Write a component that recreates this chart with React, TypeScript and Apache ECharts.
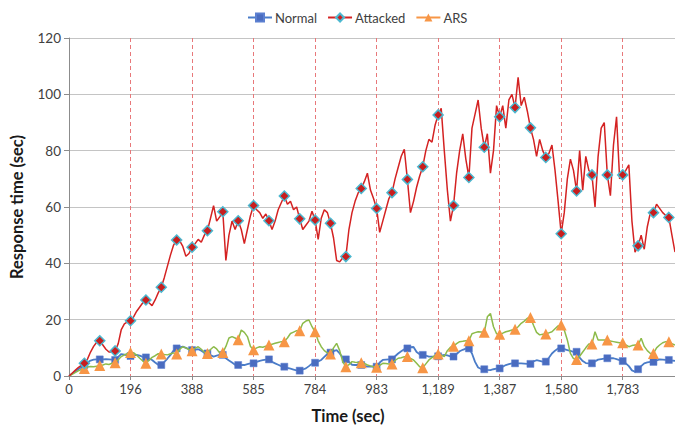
import React, { useEffect, useRef } from "react";
import * as echarts from "echarts";

// x tick labels (seconds), one every 20 samples
const tickLabels = ["0", "196", "388", "585", "784", "983", "1,189", "1,387", "1,580", "1,783"];
const samplesPerTick = 20;
const markerEvery = 5;

const seriesNames = ["Normal", "Attacked", "ARS"];

const normalValues = [
  0, 0.8, 1.6, 2.4, 3.2, 3.9, 4.8, 5.5, 5.8, 5.9,
  5.9, 5.9, 6.0, 5.9, 5.8, 5.7, 6.8, 7.8, 7.6, 7.3,
  7.1, 7.3, 7.5, 7.2, 6.8, 6.6, 6.2, 5.7, 4.8, 4.0,
  3.9, 5.0, 6.2, 7.5, 9.0, 9.8, 10.2, 10.4, 10.0, 9.5,
  9.2, 9.4, 9.5, 9.0, 8.3, 8.0, 7.4, 6.9, 7.2, 7.5,
  7.5, 6.3, 5.5, 4.8, 4.0, 3.9, 3.9, 3.9, 4.2, 4.5,
  4.5, 5.0, 5.4, 5.6, 5.8, 5.9, 5.0, 4.5, 4.0, 3.5,
  3.3, 2.9, 2.6, 2.3, 2.0, 1.9, 2.3, 2.7, 3.5, 4.4,
  4.7, 5.2, 5.7, 6.8, 7.8, 8.3, 8.8, 9.2, 8.0, 6.5,
  5.9, 5.0, 4.0, 3.9, 3.9, 3.9, 3.6, 3.3, 3.3, 3.4,
  3.3, 4.8, 5.7, 5.8, 5.9, 5.9, 7.0, 8.0, 8.8, 9.5,
  9.8, 10.2, 10.3, 8.5, 7.7, 7.5, 7.2, 6.9, 6.9, 6.9,
  7.0, 7.2, 7.5, 7.3, 7.0, 6.9, 7.8, 8.8, 9.3, 9.7,
  9.8, 8.0, 5.0, 3.0, 2.5, 2.4, 2.2, 2.1, 2.4, 2.6,
  2.7, 3.3, 3.9, 4.2, 4.5, 4.5, 4.5, 4.5, 4.4, 4.3,
  4.3, 5.2, 5.6, 5.4, 5.1, 5.1, 6.5, 8.0, 9.0, 9.8,
  9.8, 9.5, 9.2, 8.9, 8.6, 8.6, 6.5, 5.3, 4.6, 4.5,
  4.5, 5.2, 5.8, 6.0, 6.2, 6.3, 6.3, 6.3, 6.0, 5.6,
  5.3, 4.5, 3.5, 2.0, 1.5, 2.4, 3.5, 4.5, 4.8, 5.0,
  5.0, 5.5, 5.9, 5.8, 5.7, 5.7, 5.5, 5.4,
];

const attackedValues = [
  0, 1, 2, 3, 3.8, 4.5, 6, 8.5, 10.5, 12,
  12.5, 11, 9.5, 8.5, 8.5, 8.9, 11.5, 16.5, 18.5, 19.2,
  19.6, 21, 23, 24.5, 26, 27, 26, 25, 27, 29.5,
  31.5, 35, 39, 43, 46.5, 48.3, 48, 46, 42.5, 43.5,
  45.7, 47, 48.5, 47.5, 50, 51.6, 56, 60.5, 55, 56.5,
  58.3, 41, 50, 55, 52, 55.1, 52, 47, 52, 57,
  60.5, 59, 58, 56, 57.5, 55.1, 52, 55, 59, 61.5,
  63.9, 61, 62, 59, 60, 55.8, 52, 53.5, 55, 58.5,
  55.4, 48.5, 56, 59, 58, 54.2, 49, 41, 40.5, 42,
  42.4, 52, 58, 62, 65, 66.6, 69, 72, 66, 63,
  59.5, 51, 55, 59, 63, 65.1, 70, 74, 78, 80.5,
  69.8, 58, 62, 67, 71, 74.3, 80, 84, 83, 89,
  92.7, 95, 80, 66, 55, 60.5, 72, 80, 86, 77,
  70.5, 88, 93, 98, 88, 81.2, 86, 72, 80, 96,
  92, 96, 88, 98, 100, 95.3, 106, 96, 99, 94,
  88.1, 84, 78, 84, 80, 77.6, 79, 82, 73, 62,
  50.5, 58, 70, 77, 73, 65.7, 80, 66, 78, 73,
  71.4, 60, 78, 88, 90, 71.4, 64, 82, 92, 70,
  71.4, 73, 75, 55, 44, 46.2, 50, 45, 53, 58,
  58, 61, 59.5, 58, 57, 56.3, 50, 44,
];

const arsValues = [
  0, 0.6, 1.2, 1.8, 2.3, 2.7, 3.2, 3.4, 3.3, 3.5,
  3.7, 3.9, 4.3, 4.1, 4.5, 4.7, 5.8, 6.9, 7.5, 8.0,
  8.3, 8.2, 7.4, 6.3, 5.3, 4.5, 5.6, 6.6, 7.2, 7.9,
  7.8, 7.6, 7.5, 7.9, 8.2, 7.8, 9.5, 10.4, 10.0, 9.4,
  9.0, 9.8, 10.4, 9.5, 8.4, 8.0, 9.4, 10.4, 9.6, 8.2,
  8.3, 10.5, 13.5, 14.0, 13.5, 12.9, 16.3, 15.5, 14.0, 10.5,
  9.3, 10.0, 10.4, 10.2, 10.6, 11.0, 11.3, 11.6, 11.9, 12.2,
  12.2, 13.5, 15.1, 15.6, 16.1, 16.1, 18.7, 19.5, 19.9, 17.5,
  15.7, 12.5, 10.4, 9.0, 8.2, 7.8, 10.0, 11.6, 9.0, 5.0,
  3.3, 4.0, 5.1, 4.9, 4.8, 4.7, 4.5, 3.9, 3.6, 3.3,
  3.1, 3.8, 4.5, 4.4, 4.3, 4.3, 5.5, 6.3, 6.5, 6.8,
  6.9, 6.2, 5.7, 4.5, 3.3, 2.9, 4.3, 5.7, 6.5, 7.3,
  7.8, 7.4, 6.9, 9.0, 10.2, 10.6, 11.5, 12.2, 12.3, 12.5,
  12.5, 15.0, 15.4, 15.7, 15.6, 15.5, 21.0, 22.2, 17.5, 15.0,
  14.8, 15.2, 15.7, 16.0, 16.3, 16.6, 17.5, 18.7, 19.5, 20.5,
  20.8, 18.0, 15.5, 14.6, 14.8, 14.9, 15.3, 15.7, 16.8, 17.8,
  18.1, 16.3, 12.8, 8.0, 6.2, 5.9, 7.0, 8.5, 10.0, 11.4,
  11.4, 15.7, 12.8, 12.8, 12.8, 12.8, 12.4, 12.2, 12.0, 11.8,
  11.8, 11.0, 10.4, 10.8, 11.0, 11.0, 13.4, 10.5, 9.0, 8.0,
  8.0, 10.0, 11.0, 11.8, 12.2, 12.2, 11.5, 11.0,
];

const FONT = "Lato, 'Open Sans', sans-serif";

function toData(values: number[]) {
  return values.map((v, i) =>
    i > 0 && i % markerEvery === 0 ? [i, v] : { value: [i, v], symbol: "none" }
  );
}

export default function App() {
  const ref = useRef<HTMLDivElement>(null);
  useEffect(() => {
    if (!ref.current) return;
    const chart = echarts.init(ref.current, undefined, { renderer: "svg" });
    const lastIndex = attackedValues.length - 1;
    chart.setOption({
      animation: false,
      backgroundColor: "#ffffff",
      textStyle: { fontFamily: FONT },
      legend: {
        top: 6,
        left: 242,
        itemWidth: 24,
        itemHeight: 10,
        itemGap: 10,
        textStyle: { fontFamily: FONT, fontSize: 13, color: "#404040", padding: [0, 0, 0, -2] },
        data: [
          { name: "Normal" },
          { name: "Attacked" },
          { name: "ARS", lineStyle: { color: "#F79646" } },
        ],
      },
      grid: { left: 67, top: 38, right: 0, bottom: 53, containLabel: false },
      xAxis: {
        type: "value",
        min: 0,
        max: lastIndex,
        interval: samplesPerTick,
        name: "Time (sec)",
        nameLocation: "middle",
        nameGap: 31,
        nameTextStyle: {
          fontFamily: FONT,
          fontSize: 16.5,
          fontWeight: "bold",
          color: "#1a1a1a",
          padding: [0, 48, 0, 0],
        },
        axisLine: { show: true, lineStyle: { color: "#8c8c8c", width: 1 } },
        axisTick: { show: true, length: 4, lineStyle: { color: "#8c8c8c" } },
        axisLabel: {
          fontFamily: FONT,
          fontSize: 13,
          color: "#404040",
          margin: 6,
          showMaxLabel: false,
          formatter: (v: number) => {
            const k = v / samplesPerTick;
            return Number.isInteger(k) && tickLabels[k] !== undefined ? tickLabels[k] : "";
          },
        },
        splitLine: {
          show: true,
          lineStyle: { color: "#E8787A", type: [4, 3], width: 1 },
        },
      },
      yAxis: {
        type: "value",
        min: 0,
        max: 120,
        interval: 20,
        name: "Response time (sec)",
        nameLocation: "middle",
        nameGap: 44,
        nameTextStyle: { fontFamily: FONT, fontSize: 16.5, fontWeight: "bold", color: "#1a1a1a" },
        axisLine: { show: true, lineStyle: { color: "#8c8c8c", width: 1 } },
        axisTick: { show: true, length: 5, lineStyle: { color: "#8c8c8c" } },
        axisLabel: { fontFamily: FONT, fontSize: 13.5, color: "#404040", margin: 8 },
        splitLine: { show: true, lineStyle: { color: "#c4c4c4", width: 1.2 } },
      },
      series: [
        {
          name: seriesNames[0],
          type: "line",
          data: toData(normalValues),
          symbol: "rect",
          symbolSize: 7,
          itemStyle: { color: "#4A6CC0", borderColor: "#5B7FD0", borderWidth: 0.5 },
          lineStyle: { color: "#4A7CC8", width: 1.8 },
          z: 2,
        },
        {
          name: seriesNames[1],
          type: "line",
          data: toData(attackedValues),
          symbol: "diamond",
          symbolSize: 10,
          itemStyle: { color: "#C81E1E", borderColor: "#4BB8D0", borderWidth: 1.5 },
          lineStyle: { color: "#D42222", width: 1.5 },
          z: 4,
        },
        {
          name: seriesNames[2],
          type: "line",
          data: toData(arsValues),
          symbol: "triangle",
          symbolSize: 11,
          itemStyle: { color: "#F79646" },
          lineStyle: { color: "#8DBB4A", width: 1.5 },
          z: 3,
        },
      ],
    });
    return () => chart.dispose();
  }, []);
  return (
    <div
      ref={ref}
      style={{ position: "fixed", left: 0, top: 0, width: 675, height: 429, background: "#fff" }}
    />
  );
}
